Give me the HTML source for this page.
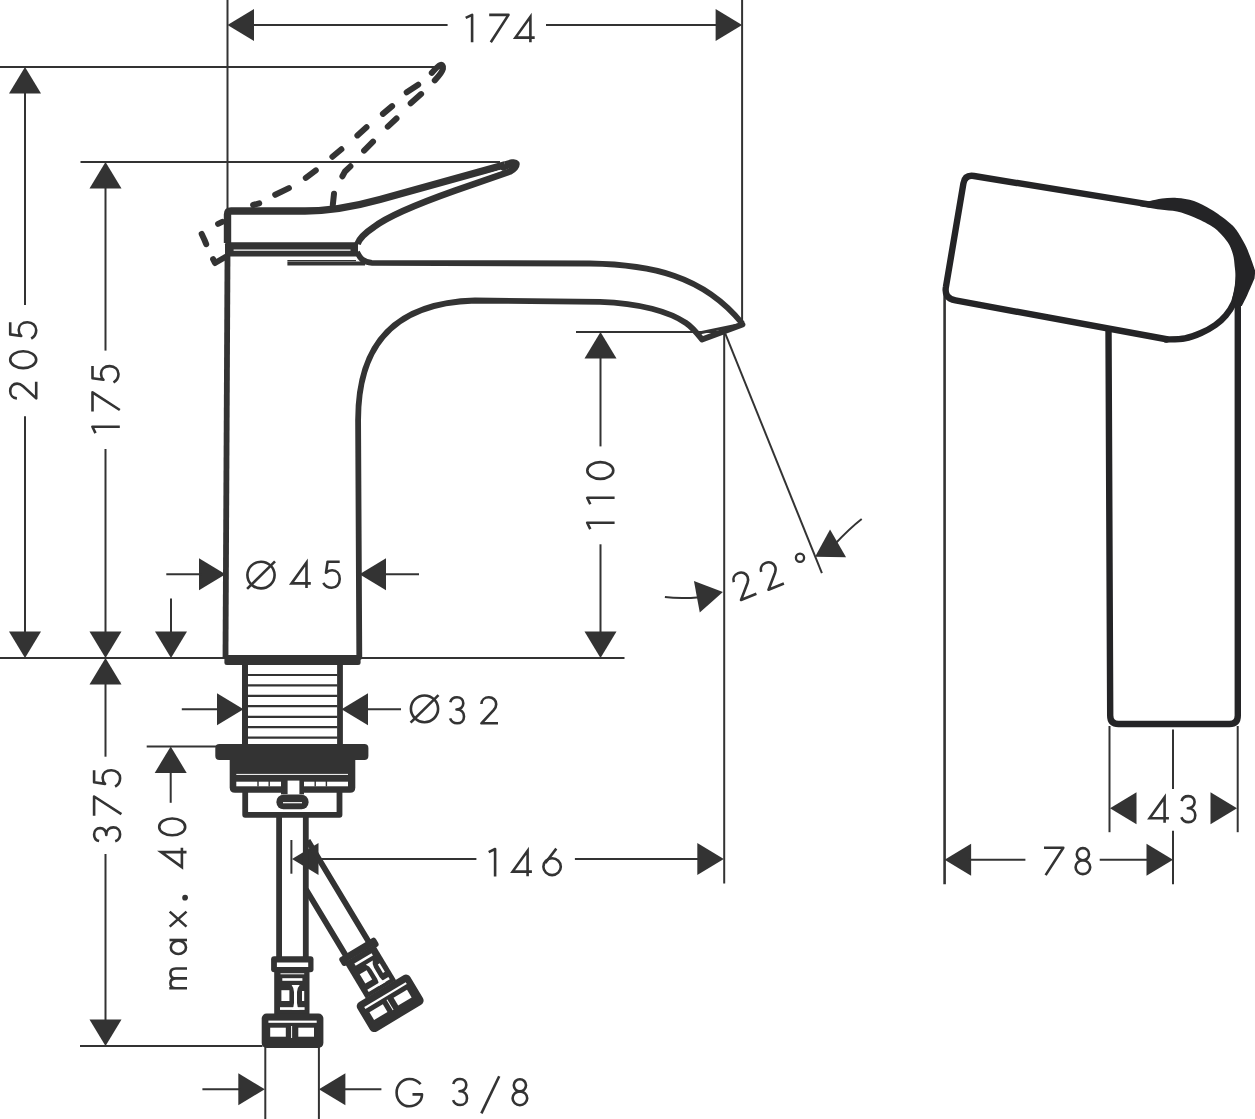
<!DOCTYPE html>
<html><head><meta charset="utf-8"><title>Faucet dimensions</title>
<style>
html,body{margin:0;padding:0;background:#fff;width:1255px;height:1119px;overflow:hidden;font-family:"Liberation Sans",sans-serif;}
svg{display:block;}
</style></head><body>
<svg width="1255" height="1119" viewBox="0 0 1255 1119">
<g fill="none" stroke="#333" stroke-width="2.6" stroke-linecap="butt" stroke-linejoin="round">
<line x1="227.50" y1="0.00" x2="227.50" y2="214.00" stroke-width="2"/>
<line x1="742.10" y1="0.00" x2="742.10" y2="321.00" stroke-width="2"/>
<polygon points="227.50,25.00 254.00,9.00 254.00,41.00" fill="#333" stroke="none"/>
<polygon points="742.10,25.00 715.60,41.00 715.60,9.00" fill="#333" stroke="none"/>
<line x1="250.00" y1="25.00" x2="447.60" y2="25.00" stroke-width="2"/>
<line x1="546.00" y1="25.00" x2="720.00" y2="25.00" stroke-width="2"/>
<g transform="translate(464.50 13.60)"><path d="M1.2 4.3 L7.6 1.2 V28.6"/></g>
<g transform="translate(489.20 13.60)"><path d="M0 1.3 H19.3 L1.6 28.6"/></g>
<g transform="translate(514.10 13.60)"><path d="M16.3 28.6 V3.2 L1.3 24 H20.6" stroke-linejoin="miter" stroke-miterlimit="4"/></g>
<line x1="0.00" y1="66.90" x2="437.00" y2="66.90" stroke-width="2"/>
<line x1="80.50" y1="162.00" x2="500.00" y2="162.00" stroke-width="2"/>
<line x1="0.00" y1="658.00" x2="227.00" y2="658.00" stroke-width="2"/>
<line x1="358.00" y1="658.00" x2="624.50" y2="658.00" stroke-width="2"/>
<polygon points="25.00,66.90 41.00,93.40 9.00,93.40" fill="#333" stroke="none"/>
<polygon points="25.00,658.00 9.00,631.50 41.00,631.50" fill="#333" stroke="none"/>
<line x1="25.00" y1="90.00" x2="25.00" y2="305.00" stroke-width="2"/>
<line x1="25.00" y1="416.20" x2="25.00" y2="635.00" stroke-width="2"/>
<g transform="translate(8.90 400.00) rotate(-90)"><path d="M1.6 8 C1.8 4 5 1.3 9 1.3 C13.3 1.3 16.4 4.3 16.4 8.2 C16.4 10.6 15.3 12.5 13.8 14.2 L1.6 27.3 H18.2"/></g>
<g transform="translate(8.90 369.40) rotate(-90)"><ellipse cx="9.7" cy="14.3" rx="8.4" ry="13"/></g>
<g transform="translate(8.90 340.00) rotate(-90)"><path d="M17.7 1.3 H5.6 L4 12.3 C5.8 10.5 7.8 9.8 10.1 9.8 C14.6 9.8 17.7 13.3 17.7 18.5 C17.7 23.6 14.3 27.3 9.7 27.3 C6 27.3 3.1 25.4 1.3 22.3"/></g>
<polygon points="105.50,162.00 121.50,188.50 89.50,188.50" fill="#333" stroke="none"/>
<polygon points="105.50,658.00 89.50,631.50 121.50,631.50" fill="#333" stroke="none"/>
<line x1="105.50" y1="185.00" x2="105.50" y2="350.60" stroke-width="2"/>
<line x1="105.50" y1="449.00" x2="105.50" y2="635.00" stroke-width="2"/>
<g transform="translate(91.20 434.30) rotate(-90)"><path d="M1.2 4.3 L7.6 1.2 V28.6"/></g>
<g transform="translate(91.20 411.60) rotate(-90)"><path d="M0 1.3 H19.3 L1.6 28.6"/></g>
<g transform="translate(91.20 383.80) rotate(-90)"><path d="M17.7 1.3 H5.6 L4 12.3 C5.8 10.5 7.8 9.8 10.1 9.8 C14.6 9.8 17.7 13.3 17.7 18.5 C17.7 23.6 14.3 27.3 9.7 27.3 C6 27.3 3.1 25.4 1.3 22.3"/></g>
<line x1="576.00" y1="332.00" x2="723.00" y2="332.00" stroke-width="2"/>
<polygon points="600.50,332.00 616.50,358.50 584.50,358.50" fill="#333" stroke="none"/>
<polygon points="600.50,658.00 584.50,631.50 616.50,631.50" fill="#333" stroke="none"/>
<line x1="600.50" y1="355.00" x2="600.50" y2="446.40" stroke-width="2"/>
<line x1="600.50" y1="544.30" x2="600.50" y2="635.00" stroke-width="2"/>
<g transform="translate(586.00 530.30) rotate(-90)"><path d="M1.2 4.3 L7.6 1.2 V28.6"/></g>
<g transform="translate(586.00 505.40) rotate(-90)"><path d="M1.2 4.3 L7.6 1.2 V28.6"/></g>
<g transform="translate(586.00 480.20) rotate(-90)"><ellipse cx="9.7" cy="14.3" rx="8.4" ry="13"/></g>
<line x1="724.20" y1="332.00" x2="724.20" y2="883.40" stroke-width="2"/>
<line x1="725.30" y1="333.60" x2="821.90" y2="573.20" stroke-width="2"/>
<polygon points="722.90,591.90 699.76,612.46 693.93,581.00" fill="#333" stroke="none"/>
<path d="M664.9 597 C676 598.5 688 598.3 700 597.2" stroke-width="2" />
<polygon points="815.10,556.70 830.05,529.59 846.05,557.31" fill="#333" stroke="none"/>
<path d="M834 545 Q850 528 861.7 519" stroke-width="2" />
<g transform="translate(729.30 575.30) rotate(-22)"><path d="M1.6 8 C1.8 4 5 1.3 9 1.3 C13.3 1.3 16.4 4.3 16.4 8.2 C16.4 10.6 15.3 12.5 13.8 14.2 L1.6 27.3 H18.2"/></g>
<g transform="translate(756.80 565.00) rotate(-22)"><path d="M1.6 8 C1.8 4 5 1.3 9 1.3 C13.3 1.3 16.4 4.3 16.4 8.2 C16.4 10.6 15.3 12.5 13.8 14.2 L1.6 27.3 H18.2"/></g>
<circle cx="800" cy="557.7" r="4.1" stroke-width="2.3"/>
<polygon points="225.50,574.30 199.00,590.30 199.00,558.30" fill="#333" stroke="none"/>
<polygon points="359.50,574.30 386.00,558.30 386.00,590.30" fill="#333" stroke="none"/>
<line x1="166.30" y1="574.30" x2="202.00" y2="574.30" stroke-width="2"/>
<line x1="383.00" y1="574.30" x2="419.00" y2="574.30" stroke-width="2"/>
<g transform="translate(246.10 560.40)"><ellipse cx="14.9" cy="14.65" rx="13.6" ry="13.35"/><path d="M1 28.5 L28.9 0.9"/></g>
<g transform="translate(290.20 559.40)"><path d="M16.3 28.6 V3.2 L1.3 24 H20.6" stroke-linejoin="miter" stroke-miterlimit="4"/></g>
<g transform="translate(322.00 560.50)"><path d="M17.7 1.3 H5.6 L4 12.3 C5.8 10.5 7.8 9.8 10.1 9.8 C14.6 9.8 17.7 13.3 17.7 18.5 C17.7 23.6 14.3 27.3 9.7 27.3 C6 27.3 3.1 25.4 1.3 22.3"/></g>
<line x1="171.00" y1="598.60" x2="171.00" y2="635.00" stroke-width="2"/>
<polygon points="171.00,658.00 155.00,631.50 187.00,631.50" fill="#333" stroke="none"/>
<polygon points="243.50,709.30 217.00,725.30 217.00,693.30" fill="#333" stroke="none"/>
<polygon points="341.50,709.30 368.00,693.30 368.00,725.30" fill="#333" stroke="none"/>
<line x1="181.80" y1="709.30" x2="218.00" y2="709.30" stroke-width="2"/>
<line x1="366.00" y1="709.30" x2="401.00" y2="709.30" stroke-width="2"/>
<g transform="translate(409.60 694.20)"><ellipse cx="14.9" cy="14.65" rx="13.6" ry="13.35"/><path d="M1 28.5 L28.9 0.9"/></g>
<g transform="translate(449.00 696.00)"><path d="M1.3 6.3 C2.1 3.2 4.8 1.3 8 1.3 C11.8 1.3 14.3 3.8 14.3 7.3 C14.3 10.9 11.5 13.5 7.5 13.5 C12.3 13.5 15 16.6 15 20.5 C15 24.7 12 27.3 8.2 27.3 C4.8 27.3 2.2 25.5 1.1 22.4"/></g>
<g transform="translate(479.80 696.00)"><path d="M1.6 8 C1.8 4 5 1.3 9 1.3 C13.3 1.3 16.4 4.3 16.4 8.2 C16.4 10.6 15.3 12.5 13.8 14.2 L1.6 27.3 H18.2"/></g>
<line x1="146.70" y1="746.40" x2="217.00" y2="746.40" stroke-width="2"/>
<polygon points="170.70,746.40 186.70,772.90 154.70,772.90" fill="#333" stroke="none"/>
<line x1="170.70" y1="770.00" x2="170.70" y2="802.80" stroke-width="2"/>
<g transform="translate(157.90 836.60) rotate(-90)"><ellipse cx="9.7" cy="14.3" rx="8.4" ry="13"/></g>
<g transform="translate(157.90 868.40) rotate(-90)"><path d="M16.3 28.6 V3.2 L1.3 24 H20.6" stroke-linejoin="miter" stroke-miterlimit="4"/></g>
<g transform="translate(169.10 899.60) rotate(-90)"><circle cx="1.9" cy="16" r="1.6" fill="#333"/></g>
<g transform="translate(169.10 927.60) rotate(-90)"><path d="M1 0.6 L16 17.4 M16 0.6 L1 17.4"/></g>
<g transform="translate(169.10 955.30) rotate(-90)"><ellipse cx="7.9" cy="9.3" rx="6.6" ry="7.6"/><path d="M15.3 0.4 V17.9"/></g>
<g transform="translate(169.10 989.60) rotate(-90)"><path d="M1.3 17.9 V0.2 M1.3 6.8 C1.3 3.1 3.4 1.3 6.3 1.3 C9.3 1.3 11.2 3.2 11.2 6.8 V17.9 M11.2 6.8 C11.2 3.2 13.3 1.3 16.2 1.3 C19.2 1.3 21.1 3.2 21.1 6.8 V17.9"/></g>
<polygon points="105.50,658.00 121.50,684.50 89.50,684.50" fill="#333" stroke="none"/>
<line x1="105.50" y1="681.00" x2="105.50" y2="756.70" stroke-width="2"/>
<line x1="105.50" y1="854.00" x2="105.50" y2="1022.00" stroke-width="2"/>
<polygon points="105.50,1046.00 89.50,1019.50 121.50,1019.50" fill="#333" stroke="none"/>
<line x1="80.00" y1="1046.00" x2="262.50" y2="1046.00" stroke-width="2"/>
<g transform="translate(92.80 842.40) rotate(-90)"><path d="M1.3 6.3 C2.1 3.2 4.8 1.3 8 1.3 C11.8 1.3 14.3 3.8 14.3 7.3 C14.3 10.9 11.5 13.5 7.5 13.5 C12.3 13.5 15 16.6 15 20.5 C15 24.7 12 27.3 8.2 27.3 C4.8 27.3 2.2 25.5 1.1 22.4"/></g>
<g transform="translate(92.80 815.80) rotate(-90)"><path d="M0 1.3 H19.3 L1.6 28.6"/></g>
<g transform="translate(92.80 787.90) rotate(-90)"><path d="M17.7 1.3 H5.6 L4 12.3 C5.8 10.5 7.8 9.8 10.1 9.8 C14.6 9.8 17.7 13.3 17.7 18.5 C17.7 23.6 14.3 27.3 9.7 27.3 C6 27.3 3.1 25.4 1.3 22.3"/></g>
<line x1="291.40" y1="840.00" x2="291.40" y2="873.70" stroke-width="2"/>
<polygon points="292.00,859.00 318.50,843.00 318.50,875.00" fill="#333" stroke="none"/>
<polygon points="723.80,859.00 697.30,875.00 697.30,843.00" fill="#333" stroke="none"/>
<line x1="317.00" y1="859.00" x2="476.40" y2="859.00" stroke-width="2"/>
<line x1="574.90" y1="859.00" x2="700.00" y2="859.00" stroke-width="2"/>
<g transform="translate(487.50 847.80)"><path d="M1.2 4.3 L7.6 1.2 V28.6"/></g>
<g transform="translate(511.30 847.60)"><path d="M16.3 28.6 V3.2 L1.3 24 H20.6" stroke-linejoin="miter" stroke-miterlimit="4"/></g>
<g transform="translate(542.10 847.80)"><path d="M14.2 0.8 L3.2 15.2"/><ellipse cx="10" cy="18.9" rx="8.7" ry="8.4"/></g>
<line x1="265.30" y1="1047.00" x2="265.30" y2="1119.00" stroke-width="2"/>
<line x1="318.90" y1="1047.00" x2="318.90" y2="1119.00" stroke-width="2"/>
<polygon points="264.80,1089.30 238.30,1105.30 238.30,1073.30" fill="#333" stroke="none"/>
<polygon points="318.90,1089.30 345.40,1073.30 345.40,1105.30" fill="#333" stroke="none"/>
<line x1="202.40" y1="1089.30" x2="241.00" y2="1089.30" stroke-width="2"/>
<line x1="343.00" y1="1089.30" x2="381.40" y2="1089.30" stroke-width="2"/>
<g transform="translate(395.30 1077.60)"><path d="M25.3 6.5 C22.6 3.2 18.6 1.35 14 1.35 C7 1.35 1.3 7.5 1.3 15.05 C1.3 22.6 7 28.7 14 28.7 C21 28.7 26.7 23.6 26.7 16.8 H17.2"/></g>
<g transform="translate(452.00 1077.70)"><path d="M1.3 6.3 C2.1 3.2 4.8 1.3 8 1.3 C11.8 1.3 14.3 3.8 14.3 7.3 C14.3 10.9 11.5 13.5 7.5 13.5 C12.3 13.5 15 16.6 15 20.5 C15 24.7 12 27.3 8.2 27.3 C4.8 27.3 2.2 25.5 1.1 22.4"/></g>
<line x1="481.40" y1="1113.40" x2="499.20" y2="1076.20" stroke-width="2.6"/>
<g transform="translate(511.30 1077.90)"><ellipse cx="8.6" cy="7.4" rx="6.1" ry="6.1"/><ellipse cx="8.6" cy="20.4" rx="7.3" ry="6.9"/></g>
<line x1="944.60" y1="291.00" x2="944.60" y2="884.20" stroke-width="2.6"/>
<line x1="1109.50" y1="726.00" x2="1109.50" y2="832.20" stroke-width="2"/>
<line x1="1237.70" y1="726.00" x2="1237.70" y2="832.20" stroke-width="2"/>
<line x1="1173.00" y1="729.40" x2="1173.00" y2="789.00" stroke-width="2"/>
<line x1="1173.00" y1="830.80" x2="1173.00" y2="884.20" stroke-width="2"/>
<polygon points="1110.00,808.20 1136.50,792.20 1136.50,824.20" fill="#333" stroke="none"/>
<polygon points="1237.00,808.20 1210.50,824.20 1210.50,792.20" fill="#333" stroke="none"/>
<g transform="translate(1148.30 794.20)"><path d="M16.3 28.6 V3.2 L1.3 24 H20.6" stroke-linejoin="miter" stroke-miterlimit="4"/></g>
<g transform="translate(1180.30 794.80)"><path d="M1.3 6.3 C2.1 3.2 4.8 1.3 8 1.3 C11.8 1.3 14.3 3.8 14.3 7.3 C14.3 10.9 11.5 13.5 7.5 13.5 C12.3 13.5 15 16.6 15 20.5 C15 24.7 12 27.3 8.2 27.3 C4.8 27.3 2.2 25.5 1.1 22.4"/></g>
<polygon points="944.60,859.70 971.10,843.70 971.10,875.70" fill="#333" stroke="none"/>
<polygon points="1173.00,859.70 1146.50,875.70 1146.50,843.70" fill="#333" stroke="none"/>
<line x1="968.00" y1="859.70" x2="1025.40" y2="859.70" stroke-width="2"/>
<line x1="1099.70" y1="859.70" x2="1150.00" y2="859.70" stroke-width="2"/>
<g transform="translate(1044.00 846.50)"><path d="M0 1.3 H19.3 L1.6 28.6"/></g>
<g transform="translate(1074.30 846.80)"><ellipse cx="8.6" cy="7.4" rx="6.1" ry="6.1"/><ellipse cx="8.6" cy="20.4" rx="7.3" ry="6.9"/></g>
<path d="M227.5 256 L225.5 657" stroke-width="5.8" />
<path d="M359.3 657 L358.1 420 C358.1 355 385 303 475 300.5 L600 301.8 C640 303 670 312 686 323 C692 327 697 333 702 339.5 L742.5 324.5" stroke-width="5.8" stroke-linecap="round"/>
<path d="M698 333.2 L739 324.6" stroke-width="3" />
<rect x="224.4" y="655" width="136.2" height="10" rx="2.5" fill="#333" stroke="none"/>
<path d="M357 252 C360 258 363 262.5 372 262.8 L590 263.5 C650 264.5 703 275 742.3 323.5" stroke-width="5.8" />
<line x1="287.40" y1="260.60" x2="356.00" y2="260.60" stroke-width="1.4"/>
<path d="M287.4 263.6 H365" stroke-width="4" />
<path d="M227.5 243 V214.5 Q227.5 211 231 211 H305 C325 211 350 207.8 380 199.5 L505 164.7" stroke-width="7.4" />
<path d="M505 164.7 C511 162.6 515 161.5 516.3 163.5 C517 166 514 169.5 510 171.5 L455 190.6 C420 203 388 216 374 227 C365 233 359.5 238 357.5 244" stroke-width="6.6" />
<rect x="225" y="242.3" width="133" height="14.2" rx="2" fill="#333" stroke="none"/>
<line x1="233.6" y1="250.1" x2="350.5" y2="250.1" stroke="#fff" stroke-width="1.1"/>
<polygon points="497,167.5 507,164 514,166.5 503,171" fill="#333" stroke="none"/>
<line x1="440" y1="189.5" x2="501" y2="170.3" stroke="#fff" stroke-width="1.2"/>
<path d="M406.7 92.3 L418.2 84.7" stroke-width="6" stroke-linecap="round"/>
<path d="M382.9 113.9 L392.1 106.1" stroke-width="6" stroke-linecap="round"/>
<path d="M357.4 135.4 L366.5 127.3" stroke-width="6" stroke-linecap="round"/>
<path d="M332.4 156.7 L341.4 149.3" stroke-width="6" stroke-linecap="round"/>
<path d="M305.8 177.9 L315.8 170.4" stroke-width="6" stroke-linecap="round"/>
<path d="M275.2 194.8 L288.9 188.1" stroke-width="6" stroke-linecap="round"/>
<path d="M253.1 205.0 L259.2 203.3" stroke-width="6" stroke-linecap="round"/>
<path d="M218.1 223.9 L222.2 221.9" stroke-width="6" stroke-linecap="round"/>
<path d="M201.7 233.9 L204.5 240.0 L206.2 244.2" stroke-width="6" stroke-linecap="round"/>
<path d="M213.1 259.2 L215.0 263.0 L225.4 257.0" stroke-width="6" stroke-linecap="round"/>
<path d="M410.7 103.3 L421.1 94.1" stroke-width="6" stroke-linecap="round"/>
<path d="M387.8 126.6 L396.5 118.5" stroke-width="6" stroke-linecap="round"/>
<path d="M364.1 150.6 L373.0 141.7" stroke-width="6" stroke-linecap="round"/>
<path d="M342.4 176.3 L345.0 171.5 L350.4 166.3" stroke-width="6" stroke-linecap="round"/>
<path d="M332.8 205.0 L334.0 193.8" stroke-width="6" stroke-linecap="round"/>
<path d="M431.8 72.8 C434.5 70 437.5 66.3 440 65.1 C442.2 64.1 443.6 66 443 68.7 C442.2 72 438.5 76.5 434.8 80.3" stroke-width="6" stroke-linecap="round"/>
<path d="M245 664 V744" stroke-width="6" />
<path d="M340 664 V744" stroke-width="5.8" />
<line x1="248.00" y1="675.00" x2="337.50" y2="675.00" stroke-width="2.2"/>
<line x1="248.00" y1="685.40" x2="337.50" y2="685.40" stroke-width="2.2"/>
<line x1="248.00" y1="695.90" x2="337.50" y2="695.90" stroke-width="2.2"/>
<line x1="248.00" y1="706.20" x2="337.50" y2="706.20" stroke-width="2.2"/>
<line x1="248.00" y1="716.90" x2="337.50" y2="716.90" stroke-width="2.2"/>
<line x1="248.00" y1="727.20" x2="337.50" y2="727.20" stroke-width="2.2"/>
<line x1="248.00" y1="737.60" x2="337.50" y2="737.60" stroke-width="2.2"/>
<rect x="215.3" y="743.9" width="153.1" height="16.1" rx="4" fill="#333" stroke="none"/>
<path d="M229.7 759 H355.3 V787.5 Q355.3 792.8 350 792.8 H235 Q229.7 792.8 229.7 787.5 Z" fill="#333" stroke="none"/>
<line x1="236.3" y1="774.4" x2="348" y2="774.4" stroke="#fff" stroke-width="1"/>
<rect x="236.3" y="781.7" width="111.7" height="4.6" fill="#fff" stroke="none"/>
<rect x="257.3" y="781" width="1.4" height="5.5" fill="#333" stroke="none"/>
<rect x="268.5" y="781" width="1.4" height="5.5" fill="#333" stroke="none"/>
<rect x="314.5" y="781" width="1.4" height="5.5" fill="#333" stroke="none"/>
<rect x="325.7" y="781" width="1.4" height="5.5" fill="#333" stroke="none"/>
<rect x="281" y="780.4" width="23" height="14" fill="#333" stroke="none"/>
<rect x="287.6" y="780.6" width="11.8" height="13.6" fill="#fff" stroke="none"/>
<path d="M245.2 792 V814.8 H339.5 V792" stroke-width="5.8" />
<rect x="276.4" y="794.8" width="32.2" height="14.5" rx="7" fill="#333" stroke="none"/>
<line x1="283" y1="802.7" x2="302" y2="802.7" stroke="#fff" stroke-width="1.2"/>
<g><path d="M279.1 817 V957 M305.8 817 V957" stroke-width="5.8"/><rect x="271.1" y="956.3" width="42.4" height="16" rx="3" fill="#333" stroke="none"/><rect x="276.9" y="962.5" width="31.3" height="4.5" fill="#fff" stroke="none"/><rect x="274.2" y="972" width="35.3" height="42" fill="#333" stroke="none"/><rect x="280.5" y="973.3" width="23.7" height="1" fill="#fff" stroke="none"/><rect x="282.3" y="978.2" width="20.1" height="2.6" fill="#fff" stroke="none"/><rect x="281.4" y="990.2" width="8" height="10.8" fill="#fff" stroke="none"/><path d="M291.6 985 H299.7 Q297 988 297 992 V1003 Q297 1007 299.7 1010 H291.6 Q294 1007 294 1003 V992 Q294 988 291.6 985 Z" fill="#fff" stroke="none"/><rect x="302" y="991" width="2.2" height="10" fill="#fff" stroke="none"/><rect x="280" y="1007.2" width="24.6" height="2.7" fill="#fff" stroke="none"/><rect x="261.7" y="1013.5" width="61.7" height="34.4" rx="5" fill="#333" stroke="none"/><rect x="268.4" y="1020.6" width="48.3" height="2.2" fill="#fff" stroke="none"/><rect x="270.2" y="1027.7" width="15.6" height="9" fill="#fff" stroke="none"/><rect x="298.3" y="1027.7" width="15.7" height="9" fill="#fff" stroke="none"/><rect x="291.1" y="1026" width="1" height="12" fill="#fff" stroke="none"/></g>
<g transform="rotate(-31 292 841)"><path d="M279.1 889.7 V967.5 M305.8 848.6 V967.5" stroke-width="5.8"/><rect x="271.1" y="965.5" width="42.4" height="10" rx="3" fill="#333" stroke="none"/><rect x="276.9" y="972.6" width="31.3" height="1.6" fill="#fff" stroke="none"/><rect x="274.2" y="972" width="35.3" height="42" fill="#333" stroke="none"/><rect x="282.3" y="978.2" width="20.1" height="2.6" fill="#fff" stroke="none"/><rect x="281.4" y="990.2" width="8" height="10.8" fill="#fff" stroke="none"/><path d="M291.6 985 H299.7 Q297 988 297 992 V1003 Q297 1007 299.7 1010 H291.6 Q294 1007 294 1003 V992 Q294 988 291.6 985 Z" fill="#fff" stroke="none"/><rect x="302" y="991" width="2.2" height="10" fill="#fff" stroke="none"/><rect x="280" y="1007.2" width="24.6" height="2.7" fill="#fff" stroke="none"/><rect x="261.7" y="1013.5" width="61.7" height="34.4" rx="5" fill="#333" stroke="none"/><rect x="268.4" y="1020.6" width="48.3" height="2.2" fill="#fff" stroke="none"/><rect x="270.2" y="1027.7" width="15.6" height="9" fill="#fff" stroke="none"/><rect x="298.3" y="1027.7" width="15.7" height="9" fill="#fff" stroke="none"/><rect x="291.1" y="1026" width="1" height="12" fill="#fff" stroke="none"/></g>
<g stroke="#242426">
<path d="M1152 204.9 L974 176 Q964.9 174.6 963.4 183.5 L946 286.5 Q943.7 298.2 955.5 300.4 L1168 339.5" stroke-width="6.4" />
<path d="M1238.3 256.0 C1238.4 258.3 1239.0 266.0 1239.0 270.0 C1239.0 274.0 1238.9 276.7 1238.6 280.0 C1238.3 283.3 1238.1 286.2 1237.3 290.0 C1236.5 293.8 1235.7 298.8 1233.8 303.0 C1231.9 307.2 1228.9 311.8 1225.8 315.5 C1222.7 319.2 1219.5 322.1 1215.4 325.0 C1211.3 327.9 1206.1 330.8 1201.0 333.0 C1195.9 335.2 1190.8 337.2 1185.0 338.3 C1179.2 339.4 1169.2 339.3 1166.0 339.5" stroke-width="6.4" stroke-linecap="round"/>
<path d="M1140.0 202.5 C1141.7 202.2 1146.3 201.7 1150.0 201.0 C1153.7 200.3 1157.5 199.1 1162.0 198.6 C1166.5 198.1 1171.7 197.6 1177.0 198.0 C1182.3 198.4 1188.3 199.1 1194.0 201.0 C1199.7 202.9 1205.3 206.1 1211.0 209.5 C1216.7 212.9 1223.7 218.0 1227.9 221.4 C1232.1 224.8 1233.6 226.1 1236.4 229.9 C1239.2 233.7 1242.6 239.9 1244.9 244.3 C1247.2 248.7 1248.3 251.8 1250.0 256.2 C1251.7 260.6 1254.4 268.5 1255.3 271.0 L1254.5 278.5 C1253.3 281.2 1249.4 290.3 1247.3 294.9 C1245.2 299.5 1242.7 304.1 1241.8 306.0 L1235.5 306.0 C1234.9 305.2 1232.2 303.9 1232.0 301.0 C1231.8 298.1 1234.0 293.1 1234.6 288.9 C1235.2 284.7 1235.6 279.8 1235.6 276.0 C1235.6 272.2 1235.1 270.0 1234.7 266.4 C1234.3 262.8 1234.1 258.5 1233.0 254.5 C1231.9 250.5 1230.2 246.3 1227.9 242.6 C1225.6 238.9 1222.2 235.2 1219.4 232.4 C1216.6 229.6 1215.2 228.2 1211.0 225.7 C1206.8 223.2 1199.7 219.5 1194.0 217.2 C1188.3 214.8 1182.7 212.9 1177.0 211.6 C1171.3 210.3 1166.2 210.4 1160.0 209.5 C1153.8 208.6 1143.3 206.8 1140.0 206.2 Z" fill="#242426" stroke="none"/>
<path d="M1108.5 327 L1110.2 715.5 Q1110.2 724 1118.5 724 H1229.5 Q1237.8 724 1237.8 715.5 V300" stroke-width="6.4" />
</g>
</g>
</svg>
</body></html>
